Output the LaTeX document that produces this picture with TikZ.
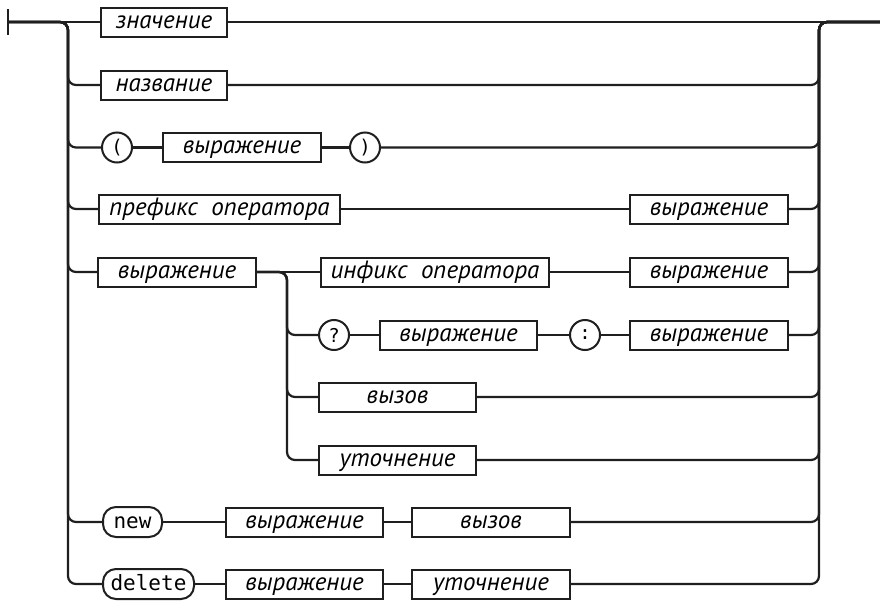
\documentclass[tikz,border=0pt]{standalone}
\usepackage{fontspec}
\setmainfont{PT Sans}
\newfontfamily\kwfont{DejaVu Sans Mono}
\tikzset{
  line/.style={line width=2.2pt, draw=black!88, rounded corners=8pt},
  nt/.style={draw=black!88, line width=2pt, minimum height=29pt, inner sep=0pt, anchor=west,
    text height=12.5pt, text depth=0pt,
    font=\itshape\fontsize{25}{25}\selectfont},
  term/.style={draw=black!88, line width=2pt, circle, minimum size=30pt, inner sep=0pt,
    font=\kwfont\fontsize{19}{19}\selectfont},
  kw/.style={draw=black!88, line width=2pt, rounded corners=13pt, minimum height=30pt, inner sep=0pt, anchor=west,
    text height=12pt, text depth=0pt,
    font=\kwfont\fontsize{21}{21}\selectfont},
}
\begin{document}
\begin{tikzpicture}[x=1pt,y=-1pt]
\useasboundingbox (0,0) rectangle (880,600);
% coordinates
\coordinate (s) at (8,22);
\coordinate (e) at (880,22);
\coordinate (L) at (68,22);
\coordinate (R) at (819,22);
\coordinate (I) at (287,272);
% nodes
\node[nt, minimum width=126pt] (b1) at (100,22) {значение};
\node[nt, minimum width=126pt] (b2) at (100,85) {название};
\node[term] (c1) at (117,147.5) {(};
\node[nt, minimum width=158pt] (b3) at (162,147.5) {выражение};
\node[term] (c2) at (365,147.5) {)};
\node[nt, minimum width=241pt] (b4) at (98,209) {префикс\ \ оператора};
\node[nt, minimum width=158pt] (b4e) at (629,209) {выражение};
\node[nt, minimum width=158pt] (b5) at (97,272) {выражение};
\node[nt, minimum width=228pt] (b5i) at (320,272) {инфикс\ \ оператора};
\node[nt, minimum width=158pt] (b5e) at (629,272) {выражение};
\node[term] (q) at (334,335) {?};
\node[nt, minimum width=157pt] (b6) at (379,335) {выражение};
\node[term] (col) at (585,335) {:};
\node[nt, minimum width=158pt] (b6e) at (629,335) {выражение};
\node[nt, minimum width=157pt] (b7) at (318,397) {вызов};
\node[nt, minimum width=157pt] (b8) at (318,460) {уточнение};
\node[kw, minimum width=59pt] (n) at (102,522) {new};
\node[nt, minimum width=157pt] (b9) at (225,522) {выражение};
\node[nt, minimum width=158pt] (b9e) at (411,522) {вызов};
\node[kw, minimum width=91pt] (d) at (102,584) {delete};
\node[nt, minimum width=157pt] (b10) at (225,584) {выражение};
\node[nt, minimum width=158pt] (b10e) at (411,584) {уточнение};
% start bar
\draw[line] (8,9) -- (8,35);
% row 1
\draw[line] (s) -- (b1.west);
\draw[line] (b1.east) -- (e);
% left branches
\draw[line] (s) -- (L) |- (b2.west);
\draw[line] (s) -- (L) |- (c1.west);
\draw[line] (s) -- (L) |- (b4.west);
\draw[line] (s) -- (L) |- (b5.west);
\draw[line] (s) -- (L) |- (n.west);
\draw[line] (s) -- (L) |- (d.west);
% row internals
\draw[line] (c1) -- (b3);
\draw[line] (b3) -- (c2);
\draw[line] (b4) -- (b4e);
\draw[line] (b5.east) -- (b5i.west);
\draw[line] (b5i) -- (b5e);
\draw[line] (b5.east) -- (I) |- (q.west);
\draw[line] (b5.east) -- (I) |- (b7.west);
\draw[line] (b5.east) -- (I) |- (b8.west);
\draw[line] (q) -- (b6);
\draw[line] (b6) -- (col);
\draw[line] (col) -- (b6e);
\draw[line] (n) -- (b9);
\draw[line] (b9) -- (b9e);
\draw[line] (d) -- (b10);
\draw[line] (b10) -- (b10e);
% right joins
\draw[line] (b2.east) -| (R) -- (e);
\draw[line] (c2.east) -| (R) -- (e);
\draw[line] (b4e.east) -| (R) -- (e);
\draw[line] (b5e.east) -| (R) -- (e);
\draw[line] (b6e.east) -| (R) -- (e);
\draw[line] (b7.east) -| (R) -- (e);
\draw[line] (b8.east) -| (R) -- (e);
\draw[line] (b9e.east) -| (R) -- (e);
\draw[line] (b10e.east) -| (R) -- (e);
\end{tikzpicture}
\end{document}
